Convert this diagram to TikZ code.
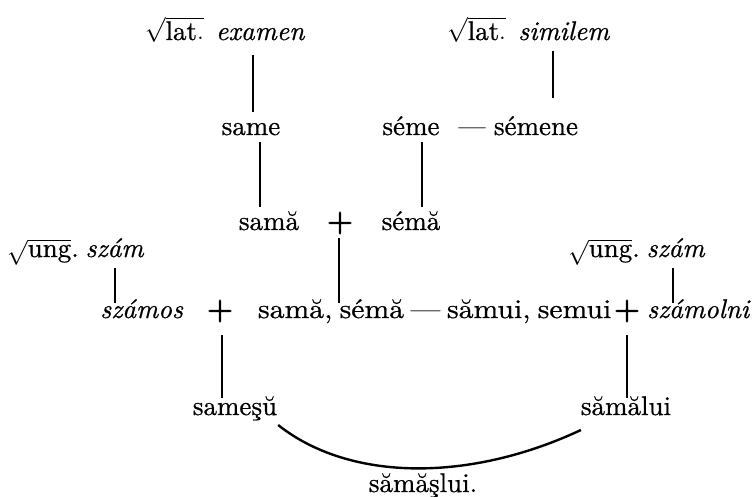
\documentclass[tikz,border=0pt]{standalone}
\usepackage{fontspec}
\setmainfont{lmroman10-regular.otf}[
  BoldFont=lmroman10-bold.otf,
  ItalicFont=lmroman10-italic.otf,
  FakeBold=0.7]
\newfontfamily\widerm{lmroman10-regular.otf}[FakeStretch=1.1, FakeBold=0.7]
\usetikzlibrary{calc}
\tikzset{
  word/.style={inner sep=0pt, outer sep=0pt, font=\fontsize{27}{32}\selectfont},
  iword/.style={word, font=\fontsize{27}{32}\selectfont\itshape},
  wword/.style={word, font=\fontsize{27}{32}\widerm},
  plussign/.style={inner sep=0pt, outer sep=0pt, font=\fontsize{30}{30}\selectfont\bfseries},
  link/.style={line width=1.2pt},
  arc/.style={line width=2.4pt}
}
\begin{document}
\begin{tikzpicture}[x=1pt, y=-1pt]
\useasboundingbox (0,0) rectangle (755,497);

% Latin roots
\node[word, anchor=base east] (latA) at (305,40) {$\sqrt{\mathrm{lat.}}$\hspace{0.45em}\textit{examen}};
\node[word, anchor=base west] (latB) at (447,40) {$\sqrt{\mathrm{lat.}}$\hspace{0.45em}\textit{similem}};

% second row
\node[word, anchor=base] (same) at (251,135) {same};
\node[word, anchor=base] (seme) at (411,135) {séme};
\node[word, anchor=base] (dashA) at (472,135) {—};
\node[word, anchor=base] (semene) at (536,135) {sémene};

% third row
\node[word, anchor=base] (sama) at (269,230) {samă};
\node[plussign] (plusTop) at (340,223) {+};
\node[word, anchor=base] (sema) at (411,230) {sémă};

% Hungarian roots
\node[word, anchor=base west] (ungL) at (7,257) {$\sqrt{\mathrm{ung}}$.\hspace{0.25em}\textit{szám}};
\node[word, anchor=base west] (ungR) at (568,257) {$\sqrt{\mathrm{ung}}$.\hspace{0.25em}\textit{szám}};

% fifth row
\node[iword, anchor=base east] (szamos) at (183,318) {számos};
\node[plussign] (plusL) at (220,311) {+};
\node[wword, anchor=base west] (mid) at (258,318) {\makebox[347pt][s]{samă, sémă — sămui, semui}};
\node[plussign] (plusR) at (627,311) {+};
\node[iword, anchor=base west] (szamolni) at (647,318) {számolni};

% sixth row
\node[word, anchor=base] (samesu) at (235,415) {sameşŭ};
\node[word, anchor=base] (samalui) at (626,415) {sămălui};

% result
\node[word, anchor=base] (result) at (423,492) {sămăşlui.};

% vertical links
\draw[link] ($(latA.base east)+(-52,15)$) -- ($(same.base)+(2,-23)$);
\draw[link] ($(latB.base west)+(106,11)$) -- ($(semene.base)+(17,-37)$);
\draw[link] ($(same.base)+(9,7)$) -- ($(sama.base)+(-9,-23)$);
\draw[link] ($(seme.base)+(11,7)$) -- ($(sema.base)+(11,-23)$);
\draw[link] ($(plusTop.center)+(-1,15)$) -- ($(mid.base west)+(81,-15)$);
\draw[link] ($(ungL.base west)+(108,11)$) -- ($(szamos.base east)+(-68,-15)$);
\draw[link] ($(ungR.base west)+(105,11)$) -- ($(szamolni.base west)+(26,-15)$);
\draw[link] ($(plusL.center)+(2,24)$) -- ($(samesu.base)+(-13,-17)$);
\draw[link] ($(plusR.center)+(0,24)$) -- ($(samalui.base)+(1,-17)$);

% joining arc
\draw[arc] ($(samesu.base east)+(1,10)$)
  .. controls ($(result.base)+(-73,-10)$) and ($(result.base)+(47,-10)$) ..
  ($(samalui.base west)+(0,15)$);
\end{tikzpicture}
\end{document}
